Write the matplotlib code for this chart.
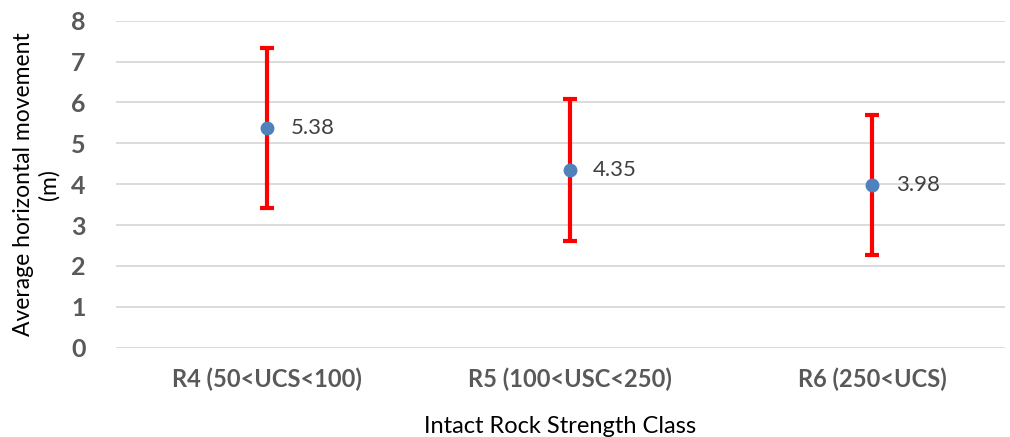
import matplotlib.pyplot as plt

# data
classes = ["R4 (50<UCS<100)", "R5 (100<USC<250)", "R6 (250<UCS)"]
means = [5.38, 4.35, 3.98]
errs = [1.96, 1.73, 1.72]

plt.rcParams['font.family'] = ['Lato', 'DejaVu Sans']

fig = plt.figure(figsize=(10.1, 4.37), dpi=100)
ax = fig.add_axes([116/1010, (437-347.7)/437, (1005-116)/1010, (347.7-20.7)/437])

x = list(range(len(classes)))
ax.errorbar(x, means, yerr=errs, fmt='o', color='#4F81BD', markersize=9,
            ecolor='#FF0000', elinewidth=3, capsize=5, capthick=3, zorder=3)
for xi, m in zip(x, means):
    ax.annotate(f"{m:.2f}", (xi, m), xytext=(17, 0), textcoords='offset points',
                va='center', ha='left', fontsize=16, color='#404040')

ax.set_xlim(-0.5, 2.44)
ax.set_ylim(0, 8)
ax.set_yticks(range(0, 9))
ax.set_xticks(x)
ax.set_xticklabels(classes, fontsize=17, fontweight='bold', color='#595959')
for t in ax.get_yticklabels():
    t.set_fontsize(18)
    t.set_fontweight('bold')
    t.set_color('#595959')
ax.tick_params(length=0, pad=14)
ax.tick_params(axis='y', pad=22)
ax.grid(axis='y', color='#D9D9D9', linewidth=1.3)
ax.set_axisbelow(True)
for s in ax.spines.values():
    s.set_visible(False)

ax.set_xlabel("Intact Rock Strength Class", fontsize=17, color='#000000', labelpad=18)
ax.set_ylabel("Average horizontal movement\n(m)", fontsize=16.5, color='#000000',
              labelpad=8, linespacing=1.25)

plt.savefig("out.png", dpi=100)
